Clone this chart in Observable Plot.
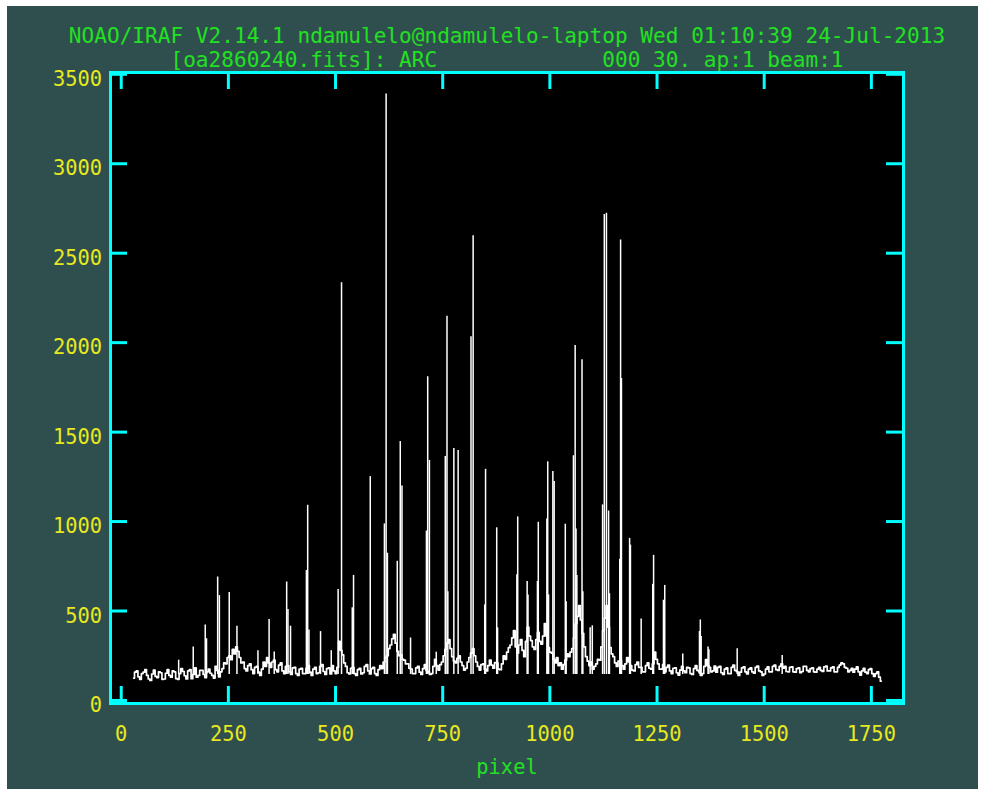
<!DOCTYPE html>
<html>
<head>
<meta charset="utf-8">
<script src="https://cdn.jsdelivr.net/npm/d3@7"></script>
<script src="https://cdn.jsdelivr.net/npm/@observablehq/plot@0.6"></script>
<style>
  body { margin: 0; background: #ffffff; }
  #wrap { position: relative; width: 984px; height: 796px; overflow: hidden; }
  #bg { position: absolute; left: 7px; top: 6px; width: 971px; height: 783px; background: #2f4f4f; }
  #chart { position: absolute; left: 0; top: 0; }
  #chart svg text { white-space: pre; }
</style>
</head>
<body>
<div id="wrap"><div id="bg"></div><div id="chart"></div></div>
<script>
// ---- Text ----
const titleLine1 = "NOAO/IRAF V2.14.1 ndamulelo@ndamulelo-laptop Wed 01:10:39 24-Jul-2013";
const titleLine2 = "[oa2860240.fits]: ARC             000 30. ap:1 beam:1";
const xLabel = "pixel";

// ---- Axis ticks ----
const xTicks = [0, 250, 500, 750, 1000, 1250, 1500, 1750];
const yTicks = [0, 500, 1000, 1500, 2000, 2500, 3000, 3500];

// ---- Spectrum continuum (sampled every 4 pixels, starting at pixel 29) ----
const pixelStart = 29;
const pixelStep = 4;
const continuum = [
  125,158,165,132,118,150,158,172,140,120,112,148,170,135,128,160,155,118,120,152,
  172,140,130,165,160,122,118,150,178,162,138,120,165,172,122,145,182,130,140,168,
  168,145,128,160,175,152,140,125,190,168,132,160,178,210,205,240,250,228,285,260,
  300,275,240,210,215,178,165,195,205,172,150,185,190,158,140,175,215,190,240,210,
  185,215,225,172,160,198,210,165,150,190,195,160,145,182,185,150,140,175,180,150,
  150,180,195,158,140,175,185,150,155,190,200,162,145,178,182,148,195,165,150,185,
  330,280,255,210,190,155,148,180,185,150,140,172,180,148,155,190,200,165,148,178,
  185,150,140,172,195,178,215,240,250,290,310,345,370,320,275,250,255,230,225,205,
  205,180,175,150,150,182,190,158,145,178,200,168,160,145,150,190,230,195,170,200,
  215,250,285,320,340,290,245,220,210,235,250,215,195,170,180,215,240,265,290,250,
  215,190,170,200,205,175,165,195,225,198,180,212,210,175,172,205,250,230,270,295,
  310,350,390,300,265,310,340,280,245,330,410,360,335,300,285,340,380,330,315,360,
  430,360,295,270,265,230,210,240,195,210,175,200,225,260,245,270,290,350,430,470,
  530,450,375,300,245,220,195,215,175,190,205,230,225,300,390,460,530,410,295,260,
  245,210,190,220,225,195,175,205,240,215,195,170,165,200,215,185,185,160,160,195,
  210,180,175,205,270,230,205,175,175,200,160,185,198,165,150,180,182,155,142,170,
  190,165,155,185,182,150,145,178,195,168,160,140,150,190,228,195,185,160,165,192,
  158,185,190,155,145,175,182,150,150,185,198,168,162,140,158,182,188,160,148,175,
  182,160,152,185,192,165,160,140,148,175,188,160,160,190,198,172,168,190,205,180,
  190,162,160,185,188,160,158,178,182,155,162,190,190,168,160,178,182,160,158,175,
  185,168,162,188,192,165,165,182,188,160,160,185,198,210,205,185,180,160,168,180,
  158,175,188,160,142,165,180,158,150,172,178,150,135,150,160,130,108
];

// ---- Emission lines: pixel position and peak counts ----
const linePixel = [
  134,168,196,199,225,229,252,270,319,345,357,386,389,395,432,435,438,465,490,
  506,514,539,542,581,614,618,621,644,651,655,675,712,715,719,735,756,760,762,
  776,786,816,821,848,850,876,878,923,925,947,949,971,973,993,995,997,1007,1010,
  1036,1038,1055,1059,1061,1063,1075,1077,1094,1099,1123,1127,1132,1137,1139,
  1163,1165,1167,1186,1188,1213,1240,1242,1265,1268,1310,1349,1351,1353,1369,1371,
  1437,1542
];
const lineCounts = [
  225,299,422,345,690,586,603,415,278,453,271,662,509,415,726,1091,394,385,278,
  620,2335,518,699,1251,987,3390,823,778,1447,1199,349,947,1810,1341,270,1364,2148,608,
  1409,1397,2033,2597,534,1292,965,406,703,1026,665,590,665,996,1014,1334,590,1280,1224,
  985,552,1368,1984,958,699,1905,608,406,417,1093,2716,2723,1059,597,
  789,2574,1799,906,868,455,649,811,560,643,260,385,450,357,299,284,
  289,251
];
const lineFoot = 145;

// ---- Build tables ----
const continuumData = continuum.map((v, i) => ({pixel: pixelStart + i * pixelStep, counts: v}));
const lineData = linePixel.map((p, i) => ({pixel: p, counts: lineCounts[i]}));

const cyan = "#00ffff";
const yellow = "#e8e820";
const green = "#22e022";
const plotH = 703 - 72;   // frame height
const plotW = 903 - 110;  // frame width
const tick = 17;

const chart = Plot.plot({
  width: 984,
  height: 796,
  marginLeft: 110,
  marginRight: 81,
  marginTop: 72,
  marginBottom: 93,
  style: {background: "transparent", color: yellow, fontFamily: "DejaVu Sans Mono", fontSize: "20.4px"},
  x: {domain: [-25, 1825], axis: null},
  y: {domain: [-17, 3510], axis: null},
  marks: [
    Plot.frame({fill: "black"}),
    Plot.line(continuumData, {x: "pixel", y: "counts", stroke: "white", strokeWidth: 1.7, curve: "step"}),
    Plot.ruleX(lineData, {x: "pixel", y1: () => lineFoot, y2: "counts", stroke: "white", strokeWidth: 1.5}),
    Plot.tickX(xTicks, {x: d => d, stroke: cyan, strokeWidth: 3, insetTop: plotH - tick}),
    Plot.tickX(xTicks, {x: d => d, stroke: cyan, strokeWidth: 3, insetBottom: plotH - tick}),
    Plot.tickY(yTicks, {y: d => d, stroke: cyan, strokeWidth: 3, insetRight: plotW - tick}),
    Plot.tickY(yTicks, {y: d => d, stroke: cyan, strokeWidth: 3, insetLeft: plotW - tick}),
    Plot.axisX(xTicks, {anchor: "bottom", tickSize: 0, tickPadding: 23, tickFormat: d => String(d), fill: yellow, label: null}),
    Plot.axisY(yTicks, {anchor: "left", tickSize: 0, tickPadding: 8.5, dy: 5, tickFormat: d => String(d), fill: yellow, label: null}),
    Plot.frame({stroke: cyan, strokeWidth: 3}),
    Plot.text([titleLine1], {frameAnchor: "top", dy: -44, text: d => d, fill: green, fontSize: 21.1}),
    Plot.text([titleLine2], {frameAnchor: "top", dy: -20, text: d => d, fill: green, fontSize: 21.1}),
    Plot.text([xLabel], {frameAnchor: "bottom", dy: 70, text: d => d, fill: green, fontSize: 20.4})
  ]
});
document.getElementById("chart").appendChild(chart);
</script>
</body>
</html>
